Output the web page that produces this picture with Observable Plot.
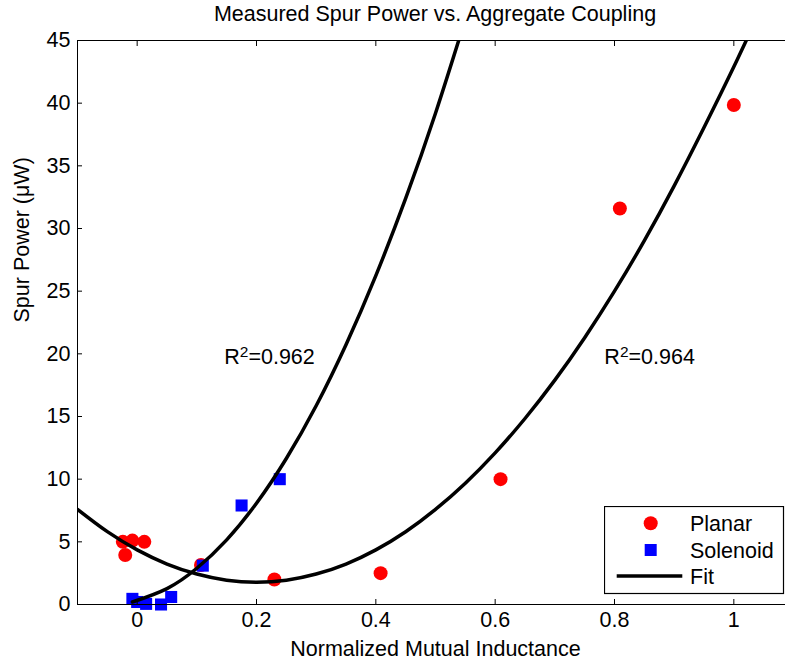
<!DOCTYPE html>
<html><head><meta charset="utf-8">
<script src="https://cdn.jsdelivr.net/npm/d3@7"></script>
<script src="https://cdn.jsdelivr.net/npm/@observablehq/plot@0.6"></script>
<style>
body{margin:0;background:#fff;font-family:"Liberation Sans",Arial,sans-serif;}
#wrap{position:relative;width:785px;height:664px;overflow:hidden;background:#fff;}
#title{position:absolute;left:77px;width:716px;top:0;height:28px;line-height:28px;text-align:center;font-size:21.5px;color:#000;white-space:nowrap;z-index:2;}
#chart{position:absolute;left:0;top:20px;z-index:1;}
#legend{position:absolute;left:604px;top:506px;z-index:3;}
</style></head><body>
<div id="wrap"><div id="title"></div><div id="chart"></div><div id="legend"></div></div>
<script>
// ---- data ----
const titleText = "Measured Spur Power vs. Aggregate Coupling";
const xLabel = "Normalized Mutual Inductance";
const yLabel = "Spur Power (\u03BCW)";
const seriesNames = ["Planar", "Solenoid", "Fit"];

const planarX = [-0.024, -0.008, 0.012, -0.02, 0.107, 0.23, 0.408, 0.609, 0.809, 1.0];
const planarY = [5.0, 5.1, 5.0, 3.95, 3.15, 2.0, 2.5, 10.0, 31.6, 39.85];

const solenoidX = [-0.008, 0.0, 0.015, 0.04, 0.057, 0.11, 0.175, 0.239];
const solenoidY = [0.45, 0.2, 0.05, 0.0, 0.6, 3.1, 7.9, 10.0];

const fitSolX = [-0.008, 0.05, 0.1, 0.15, 0.2, 0.25, 0.3, 0.35, 0.4, 0.45, 0.5, 0.55];
const fitSolY = [0.2, 1.27, 2.89, 5.16, 8.08, 11.65, 15.86, 20.73, 26.24, 32.4, 39.2, 46.7];

const fitPlaX = [-0.1, -0.05, 0, 0.05, 0.1, 0.15, 0.2, 0.25, 0.3, 0.35, 0.4, 0.45, 0.5, 0.55, 0.6, 0.65, 0.7, 0.75, 0.8, 0.85, 0.9, 0.95, 1.0, 1.05];
const fitPlaY = [7.59, 5.81, 4.36, 3.23, 2.43, 1.94, 1.78, 1.94, 2.43, 3.23, 4.36, 5.81, 7.59, 9.68, 12.1, 14.84, 17.9, 21.29, 25.0, 29.03, 33.4, 38.06, 42.9, 48.0];

const annoText = ["R\u00B2=0.962", "R\u00B2=0.964"];
const annoX = [0.146, 0.783];
const annoY = [19.77, 19.77];

const xTicks = [0, 0.2, 0.4, 0.6, 0.8, 1];
const xTickLabels = ["0", "0.2", "0.4", "0.6", "0.8", "1"];
const yTicks = [0, 5, 10, 15, 20, 25, 30, 35, 40, 45];
const yTickLabels = ["0", "5", "10", "15", "20", "25", "30", "35", "40", "45"];

// ---- tables ----
const planar = planarX.map((x, i) => ({x, y: planarY[i]}));
const solenoid = solenoidX.map((x, i) => ({x, y: solenoidY[i]}));
const fitSol = fitSolX.map((x, i) => ({x, y: fitSolY[i]}));
const fitPla = fitPlaX.map((x, i) => ({x, y: fitPlaY[i]}));
const anno = annoText.map((t, i) => ({t, x: annoX[i], y: annoY[i]}));
const xLab = new Map(xTicks.map((v, i) => [v, xTickLabels[i]]));
const yLab = new Map(yTicks.map((v, i) => [v, yTickLabels[i]]));

const RED = "#ff0000", BLUE = "#0000ff";
const FONT = "Liberation Sans, Arial, sans-serif";
const FS = 21.5;

document.getElementById("title").textContent = titleText;

const chart = Plot.plot({
  width: 785, height: 644,
  marginLeft: 77, marginRight: -8, marginTop: 20, marginBottom: 60,
  style: {fontFamily: FONT, fontSize: FS + "px", color: "black", background: "transparent"},
  x: {domain: [-0.1, 1.1]},
  y: {domain: [0, 45]},
  marks: [
    Plot.dot(planar, {x: "x", y: "y", r: 7, fill: RED, stroke: "none"}),
    Plot.dot(solenoid, {x: "x", y: "y", symbol: "square", r: 6.8, fill: BLUE, stroke: "none"}),
    Plot.line(fitSol, {x: "x", y: "y", stroke: "black", strokeWidth: 3.5, curve: "natural", clip: true}),
    Plot.line(fitPla, {x: "x", y: "y", stroke: "black", strokeWidth: 3.5, curve: "natural", clip: true}),
    Plot.text(anno, {x: "x", y: "y", text: "t", textAnchor: "start", fontSize: FS, fill: "black"}),
    Plot.axisX({anchor: "bottom", ticks: xTicks, tickFormat: d => xLab.get(d), tickSize: -5, tickPadding: 12, label: null, fontSize: FS}),
    Plot.axisX({anchor: "top", ticks: xTicks, tickFormat: () => "", tickSize: -5, label: null}),
    Plot.axisY({anchor: "left", ticks: yTicks, tickFormat: d => yLab.get(d), tickSize: -5, tickPadding: 12, label: null, fontSize: FS}),
    Plot.frame({stroke: "black"}),
    Plot.text([xLabel], {frameAnchor: "bottom", dy: 51, fontSize: FS, fill: "black"}),
    Plot.text([yLabel], {frameAnchor: "left", dx: -55, rotate: -90, fontSize: FS, fill: "black"})
  ]
});
document.getElementById("chart").appendChild(chart);

// real superscript for R²
d3.select(chart).selectAll("text").each(function() {
  const el = d3.select(this);
  const s = this.textContent;
  if (this.children.length === 0 && s.includes("\u00B2")) {
    const [a, b] = s.split("\u00B2");
    el.text(null);
    el.append("tspan").text(a);
    el.append("tspan").attr("dy", "-0.45em").attr("font-size", "0.72em").text("2");
    el.append("tspan").attr("dy", "0.324em").text(b);
  }
});

// ---- legend ----
const leg = d3.select("#legend").append("svg").attr("width", 182).attr("height", 90)
  .style("font-family", FONT).style("font-size", FS + "px");
leg.append("rect").attr("x", 0.5).attr("y", 0.5).attr("width", 179).attr("height", 87)
  .attr("fill", "white").attr("stroke", "black").attr("stroke-width", 1.2);
const rowY = [17.3, 44, 70];
leg.append("circle").attr("cx", 46.7).attr("cy", rowY[0]).attr("r", 7).attr("fill", RED);
leg.append("rect").attr("x", 46.7 - 6).attr("y", rowY[1] - 6).attr("width", 12).attr("height", 12).attr("fill", BLUE);
leg.append("line").attr("x1", 12.7).attr("x2", 78.3).attr("y1", rowY[2]).attr("y2", rowY[2])
  .attr("stroke", "black").attr("stroke-width", 3.5);
seriesNames.forEach((n, i) => {
  leg.append("text").attr("x", 86).attr("y", rowY[i] + 7.5).attr("fill", "black").text(n);
});
</script>
</body></html>
